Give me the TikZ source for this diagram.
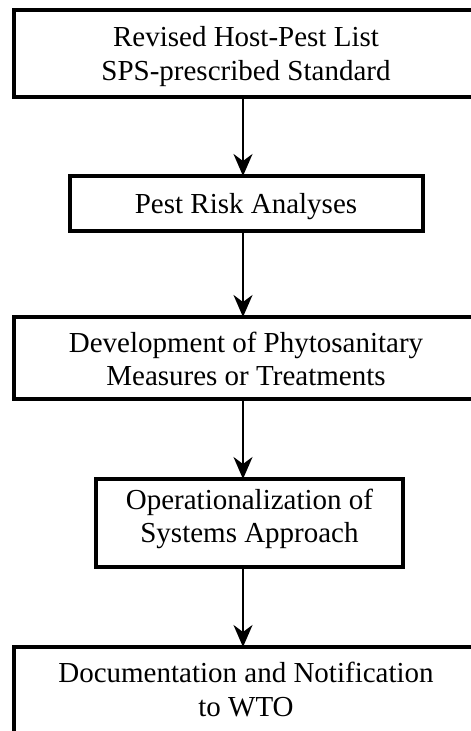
\documentclass[tikz,border=0pt]{standalone}
\usepackage{fontspec}
\setmainfont{Liberation Serif}
\usetikzlibrary{arrows.meta}
\begin{document}
\begin{tikzpicture}[x=1pt,y=-1pt,
  stagebox/.style={draw=black,line width=3.3pt,inner sep=0pt,outer sep=0pt},
  stagetext/.style={align=center,inner sep=0pt,font=\fontsize{29}{33.5}\selectfont},
  flowarrow/.style={line width=2pt,-{Stealth[length=22pt,width=19pt,inset=7pt]}}]
\useasboundingbox (0,0) rectangle (471,731);
\begin{scope}
\clip (0,0) rectangle (471,731);
% stage frames
\node[stagebox,minimum width=464pt,minimum height=87pt] (b1) at (246,53.5) {};
\node[stagebox,minimum width=353pt,minimum height=55pt] (b2) at (246.5,203.5) {};
\node[stagebox,minimum width=464pt,minimum height=82pt] (b3) at (246,358) {};
\node[stagebox,minimum width=307pt,minimum height=88pt] (b4) at (249.5,523) {};
\node[stagebox,minimum width=464pt,minimum height=98pt] (b5) at (246,696) {};
% stage labels
\node[stagetext] (t1) at (246,56.65) {Revised Host-Pest List\\SPS-prescribed Standard};
\node[stagetext,anchor=base] (t2) at (246,213) {Pest Risk Analyses};
\node[stagetext] (t3) at (246,358.75) {Development of Phytosanitary\\Measures or Treatments};
\node[stagetext] (t4) at (249.5,518.9) {Operationalization of\\Systems Approach};
\node[stagetext] (t5) at (246,689.75) {Documentation and Notification\\to WTO};
% connectors run down one common vertical
\coordinate (axis) at (243,0);
\draw[flowarrow] (b1.south -| axis) -- (b2.north -| axis);
\draw[flowarrow] (b2.south -| axis) -- (b3.north -| axis);
\draw[flowarrow] (b3.south -| axis) -- (b4.north -| axis);
\draw[flowarrow] (b4.south -| axis) -- (b5.north -| axis);
\end{scope}
\end{tikzpicture}
\end{document}
